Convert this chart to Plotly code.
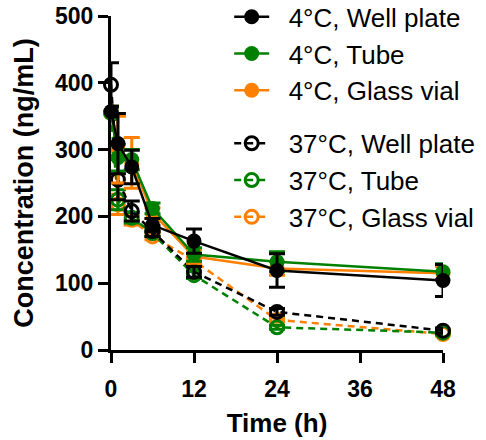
import plotly.graph_objects as go

time_h = [0, 1, 3, 6, 12, 24, 48]

c4_well = [357, 309, 274, 187, 163, 119, 104]
c4_well_err = [8, 45, 25, 10, 18, 25, 24]
c4_tube = [355, 288, 285, 212, 143, 132, 117]
c4_tube_err = [8, 20, 15, 8, 10, 15, 12]
c4_vial = [355, 300, 280, 205, 140, 122, 115]
c4_vial_err = [8, 50, 38, 8, 10, 10, 10]

c37_well = [397, 255, 208, 178, 117, 57, 29]
c37_well_err = [33, 30, 15, 8, 8, 5, 4]
c37_tube = [355, 225, 198, 175, 112, 34, 26]
c37_tube_err = [10, 15, 8, 5, 5, 3, 3]
c37_vial = [355, 218, 195, 170, 134, 45, 24]
c37_vial_err = [10, 15, 8, 5, 5, 3, 3]

BLACK = "#000000"
GREEN = "#008000"
ORANGE = "#FF8000"

fig = go.Figure()

def add(name, y, err, color, filled, legend, rank):
    fig.add_trace(go.Scatter(
        x=time_h, y=y, name="\u00a0\u00a0" + name, mode="lines+markers",
        line=dict(color=color, width=2.5, dash=None if filled else "7px,5px"),
        marker=dict(symbol="circle" if filled else "circle-open", size=15 if filled else 13,
                    color=color, line=dict(color=color, width=3 if not filled else 0)),
        error_y=dict(type="data", array=err, color=color, thickness=3, width=8),
        cliponaxis=False, legend=legend, legendrank=rank,
    ))

add("37°C, Glass vial", c37_vial, c37_vial_err, ORANGE, False, "legend2", 3)
add("37°C, Tube", c37_tube, c37_tube_err, GREEN, False, "legend2", 2)
add("37°C, Well plate", c37_well, c37_well_err, BLACK, False, "legend2", 1)
add("4°C, Glass vial", c4_vial, c4_vial_err, ORANGE, True, "legend", 3)
add("4°C, Tube", c4_tube, c4_tube_err, GREEN, True, "legend", 2)
add("4°C, Well plate", c4_well, c4_well_err, BLACK, True, "legend", 1)

font = "Arial, Liberation Sans, sans-serif"
leg = dict(font=dict(family=font, size=26, color="#000"), bgcolor="rgba(0,0,0,0)",
           itemwidth=35, traceorder="normal", xanchor="left", yanchor="top", tracegroupgap=0)

fig.update_layout(
    width=486, height=440,
    margin=dict(l=111, r=43, t=16, b=90, pad=0, autoexpand=False),
    plot_bgcolor="white", paper_bgcolor="white",
    showlegend=True,
    legend=dict(leg, x=0.356, y=1.068),
    legend2=dict(leg, x=0.356, y=0.689),
    xaxis=dict(range=[0, 48], tickvals=[0, 12, 24, 36, 48], showgrid=False, zeroline=False,
               showline=True, linecolor="black", linewidth=3, ticks="outside", ticklen=10,
               tickwidth=3, tickcolor="black", automargin=False, ticklabelstandoff=6,
               ticklabeloverflow="allow",
               tickfont=dict(family=font, size=23, color="black", weight="bold"),
               title=dict(text="<b>Time (h)</b>", font=dict(family=font, size=26, color="black"), standoff=14)),
    yaxis=dict(range=[0, 500], tickvals=[0, 100, 200, 300, 400, 500], showgrid=False, zeroline=False,
               showline=True, linecolor="black", linewidth=3, ticks="outside", ticklen=10,
               tickwidth=3, tickcolor="black", automargin=False, ticklabeloverflow="allow",
               tickfont=dict(family=font, size=23, color="black", weight="bold"),
               title=dict(text="<b>Concentration (ng/mL)</b>", font=dict(family=font, size=27, color="black"), standoff=14)),
)

fig.write_html("out.html", config={"displayModeBar": False},
               post_script="document.body.style.margin='0';")
